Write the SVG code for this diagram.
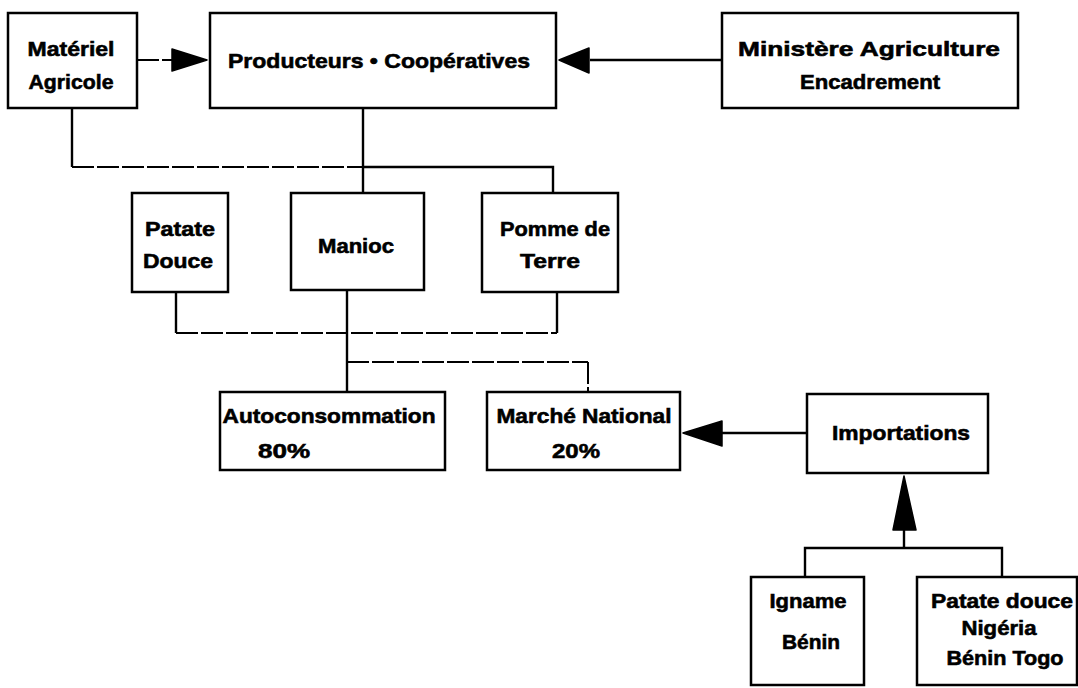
<svg xmlns="http://www.w3.org/2000/svg" width="1078" height="688" viewBox="0 0 1078 688">
  <style>
    .box { fill: #fff; stroke: #000; stroke-width: 2.5; }
    .ln { fill: none; stroke: #000; stroke-width: 2.4; }
    .dl { fill: none; stroke: #000; stroke-width: 2; stroke-dasharray: 22 3; }
    .head { fill: #000; stroke: #000; stroke-width: 1.5; stroke-linejoin: round; }
    text { font-family: "Liberation Sans", Arial, sans-serif; font-weight: bold; font-size: 21px; fill: #000; stroke: #000; stroke-width: 0.6; text-anchor: middle; }
  </style>

  <!-- connectors -->
  <g id="connectors">
    <!-- Matériel -> Producteurs -->
    <line class="dl" x1="137" y1="60" x2="172" y2="60"/>
    <polygon class="head" points="172,49 207,60 172,71"/>
    <!-- Ministère -> Producteurs -->
    <line class="ln" x1="722" y1="60" x2="590" y2="60"/>
    <polygon class="head" points="589,48 559,60 589,73"/>
    <!-- upper distribution to crops -->
    <polyline class="ln" points="72,108 72,167"/>
    <line class="dl" x1="72" y1="167" x2="363" y2="167"/>
    <polyline class="ln" points="363,108 363,193"/>
    <polyline class="ln" points="363,167 553,167 553,193"/>
    <!-- crops to lower bus -->
    <polyline class="ln" points="176,292 176,333"/>
    <line class="dl" x1="176" y1="333" x2="557" y2="333"/>
    <polyline class="ln" points="557,292 557,333"/>
    <polyline class="ln" points="347,290 347,392"/>
    <!-- split to markets -->
    <line class="dl" x1="347" y1="362" x2="588" y2="362"/>
    <polyline class="dl" points="588,362 588,392"/>
    <!-- Importations -> Marché National -->
    <line class="ln" x1="807" y1="433" x2="722" y2="433"/>
    <polygon class="head" points="722,421 683,433 722,446"/>
    <!-- sources -> Importations -->
    <polyline class="ln" points="805,577 805,548 1002,548 1002,577"/>
    <line class="ln" x1="904" y1="548" x2="904" y2="528"/>
    <polygon class="head" points="893,530 904,476 916,530"/>
  </g>

  <g id="materiel">
    <rect class="box" x="8" y="13" width="129" height="95"/>
    <text x="71" y="56" textLength="87" lengthAdjust="spacingAndGlyphs">Matériel</text>
    <text x="71" y="89" textLength="85" lengthAdjust="spacingAndGlyphs">Agricole</text>
  </g>

  <g id="producteurs">
    <rect class="box" x="210" y="13" width="346" height="95"/>
    <text x="379" y="68" textLength="302" lengthAdjust="spacingAndGlyphs">Producteurs • Coopératives</text>
  </g>

  <g id="ministere">
    <rect class="box" x="722" y="13" width="296" height="95"/>
    <text x="869" y="56" textLength="262" lengthAdjust="spacingAndGlyphs">Ministère Agriculture</text>
    <text x="870" y="89" textLength="140" lengthAdjust="spacingAndGlyphs">Encadrement</text>
  </g>

  <g id="patate-douce">
    <rect class="box" x="132" y="193" width="96" height="99"/>
    <text x="180" y="236" textLength="70" lengthAdjust="spacingAndGlyphs">Patate</text>
    <text x="178" y="268" textLength="70" lengthAdjust="spacingAndGlyphs">Douce</text>
  </g>

  <g id="manioc">
    <rect class="box" x="291" y="193" width="133" height="97"/>
    <text x="356" y="253" textLength="76" lengthAdjust="spacingAndGlyphs">Manioc</text>
  </g>

  <g id="pomme-de-terre">
    <rect class="box" x="482" y="193" width="136" height="99"/>
    <text x="555" y="236" textLength="110" lengthAdjust="spacingAndGlyphs">Pomme de</text>
    <text x="550" y="268" textLength="60" lengthAdjust="spacingAndGlyphs">Terre</text>
  </g>

  <g id="autoconsommation">
    <rect class="box" x="220" y="392" width="225" height="78"/>
    <text x="329" y="423" textLength="213" lengthAdjust="spacingAndGlyphs">Autoconsommation</text>
    <text x="284" y="458" textLength="52" lengthAdjust="spacingAndGlyphs">80%</text>
  </g>

  <g id="marche-national">
    <rect class="box" x="487" y="392" width="193" height="78"/>
    <text x="584" y="423" textLength="175" lengthAdjust="spacingAndGlyphs">Marché National</text>
    <text x="576" y="458" textLength="48" lengthAdjust="spacingAndGlyphs">20%</text>
  </g>

  <g id="importations">
    <rect class="box" x="807" y="394" width="181" height="79"/>
    <text x="901" y="440" textLength="138" lengthAdjust="spacingAndGlyphs">Importations</text>
  </g>

  <g id="igname">
    <rect class="box" x="751" y="577" width="113" height="108"/>
    <text x="808" y="608" textLength="77" lengthAdjust="spacingAndGlyphs">Igname</text>
    <text x="811" y="649" textLength="58" lengthAdjust="spacingAndGlyphs">Bénin</text>
  </g>

  <g id="patate-douce-import">
    <rect class="box" x="917" y="577" width="160" height="108"/>
    <text x="1002" y="608" textLength="142" lengthAdjust="spacingAndGlyphs">Patate douce</text>
    <text x="999" y="635" textLength="75" lengthAdjust="spacingAndGlyphs">Nigéria</text>
    <text x="1005" y="665" textLength="117" lengthAdjust="spacingAndGlyphs">Bénin Togo</text>
  </g>
</svg>
